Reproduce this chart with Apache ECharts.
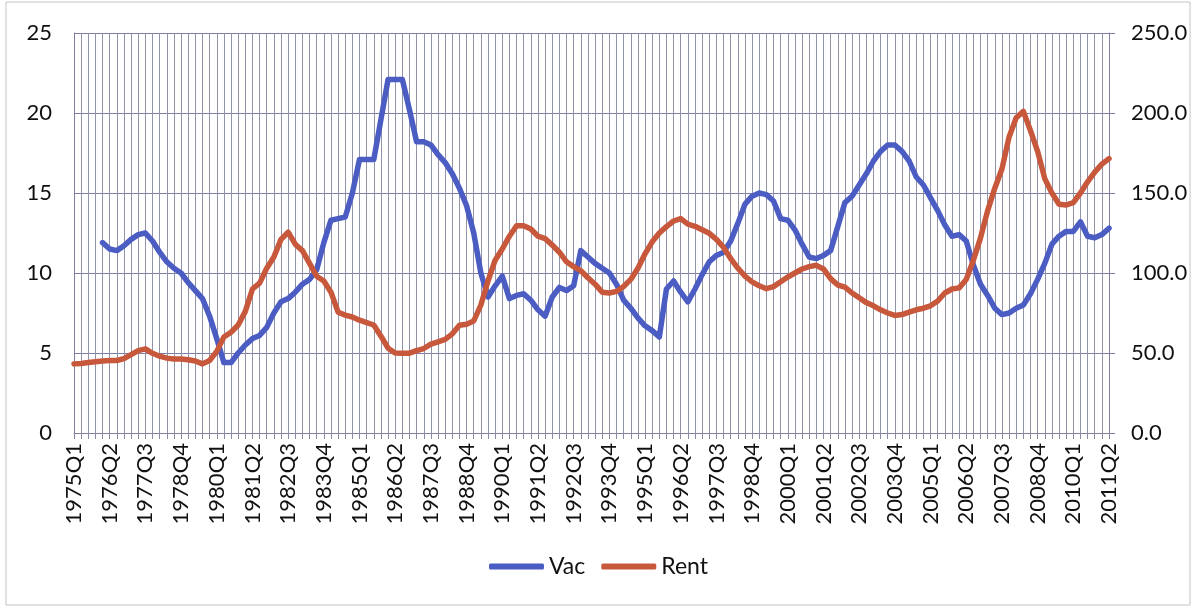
<!DOCTYPE html>
<html>
<head>
<meta charset="utf-8">
<title>Vac / Rent</title>
<script src="https://cdn.jsdelivr.net/npm/echarts@6/dist/echarts.min.js"></script>
<style>
  html, body { margin: 0; padding: 0; background: #fff; }
  #main { width: 1197px; height: 610px; }
</style>
</head>
<body>
<div id="main"></div>
<script>
// quarters 1975Q1 .. 2011Q2
var firstYear = 1975;
var lastYear = 2011;
var lastQuarter = 2;
var quarters = [];
for (var y = firstYear; y <= lastYear; y++) {
    for (var q = 1; q <= 4; q++) {
        if (y === lastYear && q > lastQuarter) break;
        quarters.push(y + 'Q' + q);
    }
}

// vacancy rate (left axis), series starts 1976Q1
var vac = [
    null, null, null, null, 11.9, 11.5, 11.4, 11.7, 12.1, 12.4,
    12.5, 12.0, 11.3, 10.7, 10.3, 10.0, 9.4, 8.9, 8.4, 7.3,
    5.9, 4.4, 4.4, 5.0, 5.5, 5.9, 6.1, 6.6, 7.5, 8.2,
    8.4, 8.8, 9.3, 9.6, 10.2, 11.9, 13.3, 13.4, 13.5, 15.0,
    17.1, 17.1, 17.1, 19.6, 22.1, 22.1, 22.1, 20.2, 18.2, 18.2,
    18.0, 17.4, 16.9, 16.2, 15.3, 14.2, 12.5, 10.0, 8.5, 9.2,
    9.8, 8.4, 8.6, 8.7, 8.3, 7.7, 7.3, 8.5, 9.1, 8.9,
    9.2, 11.4, 11.0, 10.6, 10.3, 10.0, 9.3, 8.3, 7.8, 7.2,
    6.7, 6.4, 6.0, 9.0, 9.5, 8.8, 8.2, 9.0, 9.9, 10.7,
    11.1, 11.3, 12.0, 13.1, 14.3, 14.8, 15.0, 14.9, 14.5, 13.4,
    13.3, 12.7, 11.8, 11.0, 10.9, 11.1, 11.4, 12.9, 14.4, 14.8,
    15.5, 16.2, 17.0, 17.6, 18.0, 18.0, 17.6, 17.0, 16.0, 15.5,
    14.7, 13.9, 13.0, 12.3, 12.4, 12.0, 10.5, 9.3, 8.6, 7.8,
    7.4, 7.5, 7.8, 8.0, 8.7, 9.6, 10.6, 11.8, 12.3, 12.6,
    12.6, 13.2, 12.3, 12.2, 12.4, 12.8
];

// rent index (right axis)
var rent = [
    43.2, 43.5, 44.0, 44.5, 45.0, 45.3, 45.3, 46.5, 49.0, 51.5,
    52.6, 49.8, 48.0, 46.8, 46.3, 46.3, 45.8, 45.0, 43.2, 45.3,
    51.0, 60.0, 63.0, 67.5, 76.0, 90.0, 93.7, 103.0, 110.0, 121.0,
    125.5, 118.0, 114.0, 106.0, 98.0, 95.0, 88.0, 75.5, 73.7, 72.5,
    70.5, 69.0, 67.5, 60.5, 53.0, 50.0, 49.9, 49.9, 51.5, 52.8,
    55.5, 57.0, 58.5, 62.0, 67.4, 68.0, 70.0, 80.0, 95.0, 108.0,
    115.0, 123.0, 129.5, 129.5, 127.5, 123.0, 121.5, 117.5, 113.0, 107.0,
    104.0, 101.5, 97.0, 93.0, 88.0, 87.5, 88.5, 91.6, 96.0, 103.0,
    112.0, 119.5, 125.0, 129.0, 132.5, 134.0, 130.5, 129.2, 127.0, 124.8,
    121.0, 116.0, 109.0, 103.0, 98.0, 94.5, 92.0, 90.2, 91.5, 94.5,
    97.5, 100.0, 102.5, 104.0, 104.8, 102.5, 96.5, 92.5, 91.2, 87.5,
    84.5, 81.5, 79.5, 77.0, 75.0, 73.5, 74.0, 75.5, 77.0, 78.0,
    79.5, 82.5, 87.5, 90.0, 90.7, 96.0, 108.0, 122.0, 139.0, 153.0,
    165.0, 185.0, 197.0, 201.0, 189.0, 176.0, 159.0, 150.0, 143.0, 142.5,
    144.0, 150.0, 157.0, 163.0, 168.0, 171.5
];

var seriesNames = ['Vac', 'Rent'];
var seriesColors = ['#4b5cc2', '#c7583c'];

var myChart = echarts.init(document.getElementById('main'));

var labelFont = 'Lato, "Open Sans", sans-serif';

var option = {
    backgroundColor: '#fff',
    animation: false,
    textStyle: { fontFamily: labelFont },
    grid: {
        left: 74,
        right: 88,
        top: 33,
        bottom: 177
    },
    legend: {
        data: seriesNames,
        bottom: 27,
        left: 'center',
        icon: 'roundRect',
        itemWidth: 55,
        itemHeight: 6,
        itemGap: 16,
        textStyle: { fontSize: 23, color: '#111', fontFamily: labelFont }
    },
    xAxis: {
        type: 'category',
        data: quarters,
        boundaryGap: false,
        axisLine: { lineStyle: { color: '#7f7f9c', width: 1 } },
        axisTick: { interval: 0, length: 6, lineStyle: { color: '#8a8aa4' } },
        axisLabel: {
            interval: 4,
            rotate: 90,
            margin: 10,
            fontSize: 22,
            color: '#111'
        },
        splitLine: {
            show: true,
            interval: 0,
            lineStyle: { color: '#9193a8', width: 1 }
        }
    },
    yAxis: [
        {
            type: 'value',
            min: 0,
            max: 25,
            interval: 5,
            axisLine: { show: true, lineStyle: { color: '#7f7f9c' } },
            axisTick: { show: false },
            axisLabel: { fontSize: 22, color: '#111', margin: 22 },
            splitLine: { lineStyle: { color: '#7d7da8', width: 1 } }
        },
        {
            type: 'value',
            min: 0,
            max: 250,
            interval: 50,
            position: 'right',
            axisLine: { show: true, lineStyle: { color: '#7f7f9c' } },
            axisTick: { show: true, length: 6, lineStyle: { color: '#7f7f9c' } },
            axisLabel: {
                fontSize: 22,
                color: '#111',
                margin: 22,
                formatter: function (v) { return v.toFixed(1); }
            },
            splitLine: { show: false }
        }
    ],
    graphic: [{
        type: 'rect',
        shape: { x: 6, y: 2, width: 1184, height: 603 },
        style: { fill: 'none', stroke: '#c4c4c4', lineWidth: 1 },
        silent: true
    }],
    series: [
        {
            name: seriesNames[0],
            type: 'line',
            yAxisIndex: 0,
            data: vac,
            symbol: 'none',
            color: seriesColors[0],
            lineStyle: { width: 5.5, cap: 'round', join: 'round' }
        },
        {
            name: seriesNames[1],
            type: 'line',
            yAxisIndex: 1,
            data: rent,
            symbol: 'none',
            color: seriesColors[1],
            lineStyle: { width: 5.5, cap: 'round', join: 'round' }
        }
    ]
};

myChart.setOption(option);
</script>
</body>
</html>
